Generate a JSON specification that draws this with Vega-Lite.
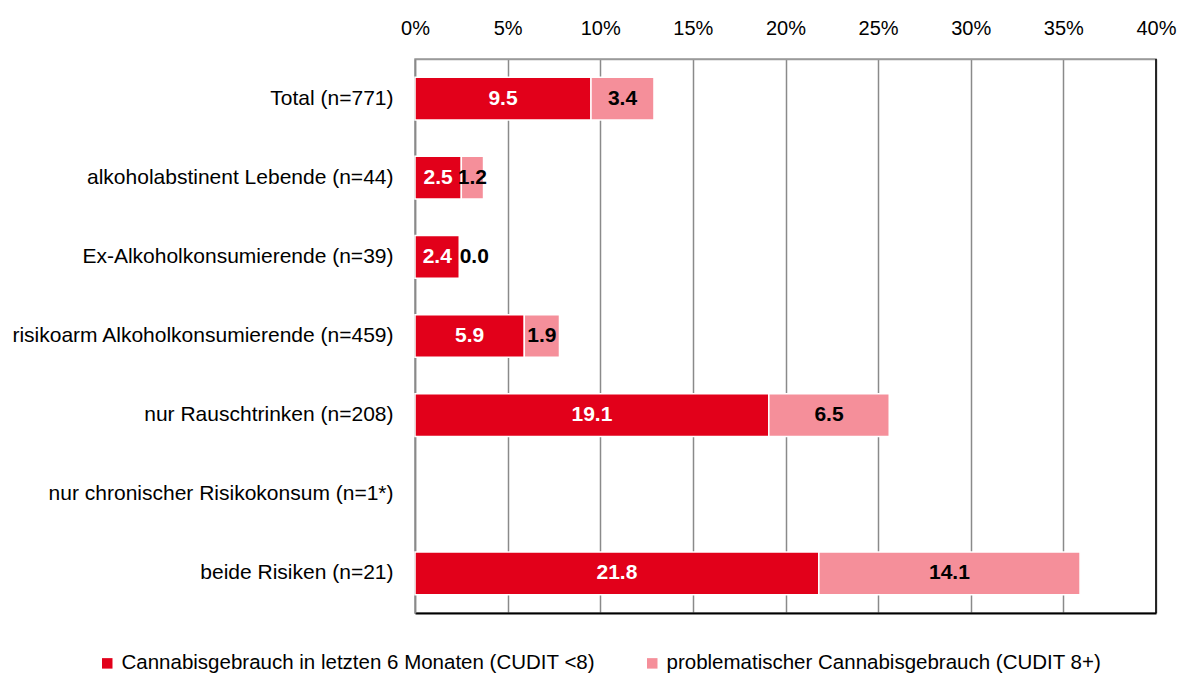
{
  "$schema": "https://vega.github.io/schema/vega-lite/v6.json",
  "autosize": {"type": "none"},
  "width": 741,
  "height": 554,
  "padding": {"left": 415, "top": 59, "right": 24, "bottom": 62},
  "background": "white",
  "config": {
    "font": "Liberation Sans",
    "view": {"stroke": "#9a9a9a", "strokeWidth": 1.5},
    "axis": {"labelFont": "Liberation Sans", "labelColor": "black"},
    "legend": {"labelFont": "Liberation Sans", "labelColor": "black"}
  },
  "layer": [
    {
      "data": {
        "values": [
          {"cat": "Total (n=771)", "series": "Cannabisgebrauch in letzten 6 Monaten (CUDIT <8)", "value": 9.5},
          {"cat": "Total (n=771)", "series": "problematischer Cannabisgebrauch (CUDIT 8+)", "value": 3.4},
          {"cat": "alkoholabstinent Lebende (n=44)", "series": "Cannabisgebrauch in letzten 6 Monaten (CUDIT <8)", "value": 2.5},
          {"cat": "alkoholabstinent Lebende (n=44)", "series": "problematischer Cannabisgebrauch (CUDIT 8+)", "value": 1.2},
          {"cat": "Ex-Alkoholkonsumierende (n=39)", "series": "Cannabisgebrauch in letzten 6 Monaten (CUDIT <8)", "value": 2.4},
          {"cat": "Ex-Alkoholkonsumierende (n=39)", "series": "problematischer Cannabisgebrauch (CUDIT 8+)", "value": 0.0},
          {"cat": "risikoarm Alkoholkonsumierende (n=459)", "series": "Cannabisgebrauch in letzten 6 Monaten (CUDIT <8)", "value": 5.9},
          {"cat": "risikoarm Alkoholkonsumierende (n=459)", "series": "problematischer Cannabisgebrauch (CUDIT 8+)", "value": 1.9},
          {"cat": "nur Rauschtrinken (n=208)", "series": "Cannabisgebrauch in letzten 6 Monaten (CUDIT <8)", "value": 19.1},
          {"cat": "nur Rauschtrinken (n=208)", "series": "problematischer Cannabisgebrauch (CUDIT 8+)", "value": 6.5},
          {"cat": "beide Risiken (n=21)", "series": "Cannabisgebrauch in letzten 6 Monaten (CUDIT <8)", "value": 21.8},
          {"cat": "beide Risiken (n=21)", "series": "problematischer Cannabisgebrauch (CUDIT 8+)", "value": 14.1}
        ]
      },
      "transform": [
        {"stack": "value", "groupby": ["cat"], "sort": [{"field": "series", "order": "ascending"}], "as": ["x0", "x1"]},
        {"calculate": "datum.value == 0 ? datum.x0 + 0.8 : (datum.x0 + datum.x1) / 2", "as": "mid"}
      ],
      "encoding": {
        "y": {
          "field": "cat",
          "type": "nominal",
          "scale": {
            "domain": ["Total (n=771)", "alkoholabstinent Lebende (n=44)", "Ex-Alkoholkonsumierende (n=39)", "risikoarm Alkoholkonsumierende (n=459)", "nur Rauschtrinken (n=208)", "nur chronischer Risikokonsum (n=1*)", "beide Risiken (n=21)"],
            "paddingInner": 0.46,
            "paddingOuter": 0.23
          },
          "axis": {
            "title": null,
            "ticks": false,
            "labelPadding": 22,
            "labelFontSize": 21,
            "labelLimit": 420,
            "domainColor": "#8a8a8a",
            "domainWidth": 1.5
          }
        }
      },
      "layer": [
        {
          "mark": {"type": "bar", "stroke": "white", "strokeWidth": 1.5},
          "encoding": {
            "x": {
              "field": "x0",
              "type": "quantitative",
              "scale": {"domain": [0, 40], "nice": false},
              "axis": {
                "orient": "top",
                "title": null,
                "values": [0, 5, 10, 15, 20, 25, 30, 35, 40],
                "labelExpr": "datum.value + '%'",
                "labelFontSize": 20,
                "labelPadding": 21,
                "labelFlush": false,
                "labelOverlap": false,
                "ticks": false,
                "domainColor": "#9a9a9a",
                "domainWidth": 1.5,
                "grid": true,
                "gridColor": "#8a8a8a",
                "gridWidth": 1.5
              }
            },
            "x2": {"field": "x1"},
            "color": {
              "field": "series",
              "type": "nominal",
              "scale": {"range": ["#e2001a", "#f58f9a"]},
              "legend": {
                "orient": "none",
                "legendX": -318,
                "legendY": 594,
                "direction": "horizontal",
                "title": null,
                "symbolType": "square",
                "symbolSize": 110,
                "symbolStrokeWidth": 0,
                "labelFontSize": 20.5,
                "labelLimit": 600,
                "columnPadding": 47,
                "labelOffset": 4
              }
            }
          }
        },
        {
          "mark": {"type": "text", "fontWeight": "bold", "fontSize": 21, "baseline": "middle", "align": "center"},
          "encoding": {
            "x": {"field": "mid", "type": "quantitative"},
            "text": {"field": "value", "type": "quantitative", "format": ".1f"},
            "color": {
              "condition": {"test": "datum.series === 'Cannabisgebrauch in letzten 6 Monaten (CUDIT <8)'", "value": "white"},
              "value": "black"
            }
          }
        }
      ]
    },
    {
      "data": {"values": [{"edge": 40}]},
      "mark": {"type": "rule", "color": "black", "strokeWidth": 1.5},
      "encoding": {
        "x": {"field": "edge", "type": "quantitative", "axis": {"orient": "bottom", "labels": false, "ticks": false, "grid": false, "title": null, "domainColor": "black", "domainWidth": 2}}
      }
    }
  ],
  "resolve": {"axis": {"x": "independent"}}
}
